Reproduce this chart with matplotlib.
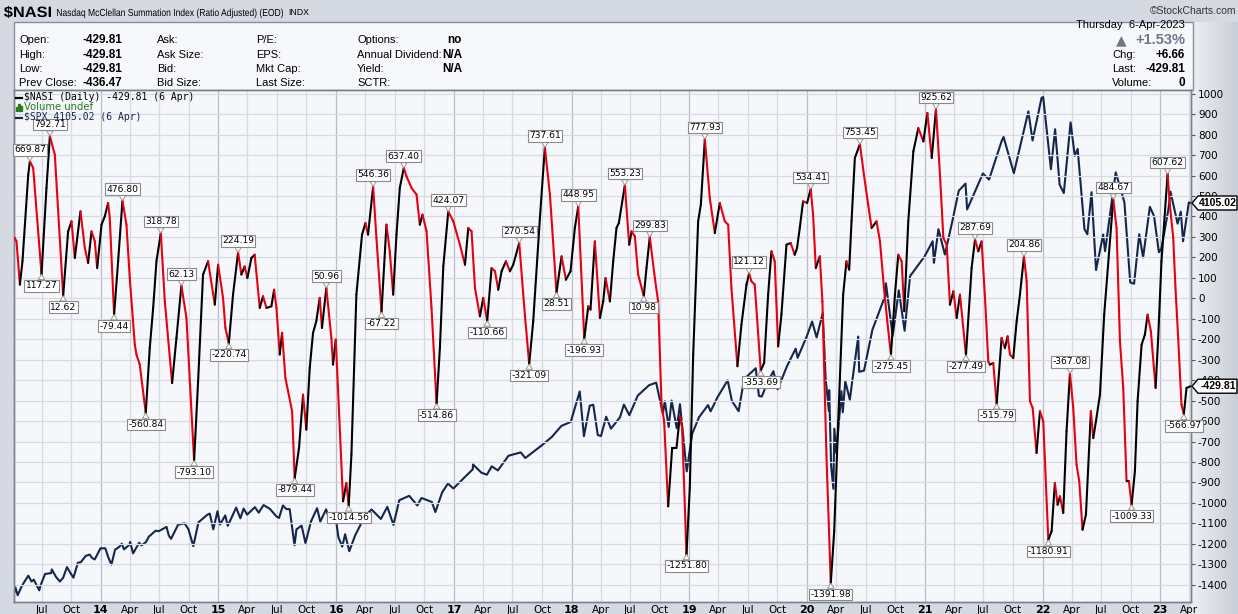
import matplotlib
matplotlib.use("Agg")
import matplotlib.pyplot as plt
import matplotlib.dates as mdates
import numpy as np
import pandas as pd
from datetime import datetime
from matplotlib.collections import LineCollection
from matplotlib.patches import Rectangle, Polygon, PathPatch
from matplotlib.colors import LinearSegmentedColormap
from matplotlib.textpath import TextPath
from matplotlib.font_manager import FontProperties
from matplotlib.transforms import Affine2D

# ---------------- DATA ----------------
# $NASI readings: decimal-year dates and values
nasi_t = [
 2013.269, 2013.283, 2013.312, 2013.334, 2013.383, 2013.397, 2013.425, 2013.496, 2013.538, 2013.567,
 2013.609, 2013.680, 2013.722, 2013.751, 2013.779, 2013.827, 2013.864, 2013.892, 2013.921, 2013.949,
 2013.969, 2014.006, 2014.034, 2014.062, 2014.076, 2014.113, 2014.147, 2014.184, 2014.218, 2014.246,
 2014.289, 2014.303, 2014.331, 2014.382, 2014.416, 2014.445, 2014.473, 2014.510, 2014.544, 2014.606,
 2014.643, 2014.685, 2014.728, 2014.793, 2014.827, 2014.869, 2014.912, 2014.969, 2014.997, 2015.039,
 2015.059, 2015.088, 2015.124, 2015.167, 2015.195, 2015.223, 2015.246, 2015.280, 2015.308, 2015.351,
 2015.379, 2015.408, 2015.450, 2015.473, 2015.493, 2015.521, 2015.541, 2015.569, 2015.626, 2015.648,
 2015.685, 2015.719, 2015.747, 2015.776, 2015.804, 2015.832, 2015.861, 2015.880, 2015.917, 2015.960,
 2015.974, 2015.997, 2016.016, 2016.059, 2016.087, 2016.107, 2016.130, 2016.172, 2016.220, 2016.249,
 2016.271, 2016.314, 2016.342, 2016.385, 2016.427, 2016.455, 2016.484, 2016.512, 2016.540, 2016.574,
 2016.597, 2016.640, 2016.682, 2016.710, 2016.733, 2016.767, 2016.809, 2016.852, 2016.880, 2016.909,
 2016.951, 2016.994, 2017.050, 2017.093, 2017.121, 2017.149, 2017.178, 2017.220, 2017.248, 2017.282,
 2017.319, 2017.348, 2017.376, 2017.404, 2017.441, 2017.475, 2017.503, 2017.554, 2017.602, 2017.639,
 2017.673, 2017.730, 2017.772, 2017.815, 2017.871, 2017.914, 2017.951, 2017.990, 2018.027, 2018.056,
 2018.107, 2018.141, 2018.160, 2018.197, 2018.240, 2018.268, 2018.288, 2018.325, 2018.353, 2018.381,
 2018.401, 2018.452, 2018.489, 2018.509, 2018.537, 2018.565, 2018.613, 2018.636, 2018.664, 2018.707,
 2018.735, 2018.764, 2018.786, 2018.820, 2018.854, 2018.891, 2018.919, 2018.939, 2018.976, 2019.004,
 2019.033, 2019.075, 2019.098, 2019.132, 2019.174, 2019.217, 2019.259, 2019.302, 2019.330, 2019.358,
 2019.409, 2019.443, 2019.486, 2019.508, 2019.528, 2019.556, 2019.607, 2019.636, 2019.670, 2019.698,
 2019.726, 2019.755, 2019.783, 2019.826, 2019.862, 2019.896, 2019.916, 2019.939, 2019.967, 2020.001,
 2020.032, 2020.052, 2020.075, 2020.109, 2020.131, 2020.165, 2020.202, 2020.231, 2020.265, 2020.307,
 2020.335, 2020.358, 2020.378, 2020.406, 2020.449, 2020.483, 2020.519, 2020.548, 2020.590, 2020.619,
 2020.653, 2020.681, 2020.712, 2020.746, 2020.774, 2020.803, 2020.825, 2020.859, 2020.902, 2020.944,
 2020.987, 2021.021, 2021.058, 2021.094, 2021.128, 2021.157, 2021.185, 2021.213, 2021.242, 2021.270,
 2021.298, 2021.349, 2021.397, 2021.426, 2021.454, 2021.482, 2021.511, 2021.539, 2021.553, 2021.581,
 2021.610, 2021.652, 2021.680, 2021.703, 2021.723, 2021.751, 2021.780, 2021.808, 2021.842, 2021.865,
 2021.893, 2021.916, 2021.949, 2021.978, 2022.006, 2022.049, 2022.077, 2022.105, 2022.128, 2022.148,
 2022.176, 2022.204, 2022.233, 2022.261, 2022.289, 2022.312, 2022.340, 2022.369, 2022.411, 2022.431,
 2022.454, 2022.488, 2022.524, 2022.601, 2022.629, 2022.658, 2022.686, 2022.714, 2022.734, 2022.757,
 2022.785, 2022.808, 2022.842, 2022.870, 2022.893, 2022.921, 2022.961, 2022.983, 2023.011, 2023.063,
 2023.082, 2023.111, 2023.130, 2023.153, 2023.181, 2023.201, 2023.224, 2023.258]
nasi_v = [
 295, 278, 67, 181, 604, 669.87, 637, 117.27, 539, 792.71,
 702, 12.62, 327, 376, 197, 425, 246, 173, 327, 278,
 148, 360, 401, 466, 393, -79.44, 181, 476.80, 360, 99,
 -227, -275, -324, -560.84, -243, -47, 181, 318.78, -15, -414,
 -194, 62.13, -96, -793.10, -406, 116, 181, -31, 164, 2,
 -145, -220.74, 18, 224.19, 116, 156, 99, 197, 213, -47,
 10, -47, -39, 42, -47, -275, -169, -389, -552, -879.44,
 -731, -471, -642, -340, -169, -112, 2, -145, 50.96, -194,
 -324, -202, -438, -992, -903, -1014.56, -764, 18, 311, 368,
 311, 546.36, 295, -67.22, 360, 230, 18, 311, 539, 637.40,
 596, 539, 507, 360, 409, 327, -47, -514.86, -243, 156,
 424.07, 376, 262, 164, 344, 327, 50, -88, 2, -110.66,
 148, 132, 42, 132, 181, 132, 164, 270.54, -80, -321.09,
 -112, 393, 737.61, 507, 28.51, 205, 91, 132, 344, 448.95,
 -196.93, -39, -55, 278, -96, -15, 99, -15, 181, 344,
 368, 553.23, 262, 327, 303, 116, 10.98, 148, 299.83, 99,
 -15, -520, -601, -1017, -732, -732, -577, -634, -1251.80, -927,
 -275, 376, 458, 777.93, 490, 319, 466, 376, 360, 50,
 -332, -129, 67, 121.12, 83, 67, -353.69, -316, 18, 230,
 181, -235, -80, 262, 270, 213, 246, 344, 474, 466,
 534.41, 409, 148, 205, -15, -764, -1391.98, -1139, -601, 18,
 181, 140, 376, 686, 753.45, 604, 458, 344, 376, 278,
 50, -112, -275.45, 18, 213, 181, -63, 376, 718, 832,
 767, 906, 686, 925.62, 604, 295, 262, -31, 34, -96,
 18, -277.49, 148, 287.69, 230, 278, 0, -310, -324, -316,
 -515.79, -194, -243, -186, -275, -292, -112, 18, 204.86, 83,
 -503, -536, -756, -552, -601, -1180.91, -1139, -903, -1009, -968,
 -1049, -650, -367.08, -536, -813, -894, -1131, -1057, -552, -683,
 -601, -471, -80, 484.67, 344, -210, -438, -894, -894, -1009.33,
 -846, -503, -227, -178, -80, -161, -438, -194, 181, 607.62,
 458, 295, 50, -194, -520, -566.97, -438, -429.81]

# values of $NASI that carry a label box
label_values = [669.87, 792.71, 117.27, 12.62, 476.80, -79.44, 318.78, 62.13, -560.84, -793.10,
                224.19, -220.74, 50.96, -879.44, 546.36, 637.40, -67.22, -1014.56, 424.07, -514.86,
                -110.66, 270.54, 737.61, -321.09, 448.95, 28.51, 553.23, -196.93, 299.83, 10.98,
                777.93, -1251.80, 121.12, -353.69, 534.41, 753.45, -1391.98, -275.45, 925.62,
                287.69, -277.49, -515.79, 204.86, -1180.91, -367.08, 484.67, -1009.33, 607.62, -566.97]

# $SPX readings (date, close)
spx_dates = [
 "2013-04-08","2013-04-11","2013-04-18","2013-04-30","2013-05-10","2013-05-21","2013-05-31","2013-06-07","2013-06-24","2013-06-28",
 "2013-07-12","2013-07-31","2013-08-02","2013-08-15","2013-08-27","2013-09-06","2013-09-18","2013-09-30","2013-10-08","2013-10-22",
 "2013-10-31","2013-11-15","2013-11-27","2013-12-05","2013-12-13","2013-12-31","2014-01-15","2014-01-24","2014-02-03","2014-02-14",
 "2014-02-28","2014-03-07","2014-03-14","2014-03-31","2014-04-02","2014-04-11","2014-04-30","2014-05-07","2014-05-21","2014-05-30",
 "2014-06-20","2014-06-30","2014-07-24","2014-07-31","2014-08-07","2014-08-29","2014-09-18","2014-09-30","2014-10-15","2014-10-31",
 "2014-11-28","2014-12-05","2014-12-16","2014-12-29","2015-01-06","2015-01-22","2015-01-30","2015-02-25","2015-03-10","2015-03-20",
 "2015-03-31","2015-04-24","2015-05-06","2015-05-21","2015-06-10","2015-06-29","2015-07-08","2015-07-20","2015-07-31","2015-08-10",
 "2015-08-25","2015-08-31","2015-09-16","2015-09-28","2015-10-15","2015-11-03","2015-11-13","2015-12-01","2015-12-14","2015-12-29",
 "2016-01-08","2016-01-20","2016-01-29","2016-02-11","2016-02-29","2016-03-31","2016-04-20","2016-05-19","2016-06-08","2016-06-27",
 "2016-07-15","2016-08-15","2016-09-09","2016-09-22","2016-10-24","2016-11-04","2016-11-25","2016-12-13","2016-12-30","2017-01-26",
 "2017-02-28","2017-03-01","2017-03-27","2017-04-13","2017-04-28","2017-05-17","2017-06-19","2017-07-27","2017-08-10","2017-08-31",
 "2017-09-29","2017-10-31","2017-11-30","2017-12-29","2018-01-26","2018-02-08","2018-02-26","2018-03-09","2018-03-23","2018-04-02",
 "2018-04-18","2018-05-03","2018-05-31","2018-06-12","2018-06-29","2018-07-25","2018-08-29","2018-09-20","2018-10-11","2018-10-17",
 "2018-10-29","2018-11-07","2018-11-23","2018-12-03","2018-12-24","2019-01-10","2019-01-31","2019-02-28","2019-03-08","2019-03-29",
 "2019-04-30","2019-05-13","2019-06-03","2019-06-20","2019-07-26","2019-08-05","2019-08-14","2019-08-30","2019-09-19","2019-10-02",
 "2019-10-31","2019-11-27","2019-12-03","2019-12-31","2020-01-17","2020-01-31","2020-02-19","2020-02-28","2020-03-09","2020-03-10",
 "2020-03-16","2020-03-23","2020-03-26","2020-04-01","2020-04-17","2020-04-21","2020-04-29","2020-05-13","2020-06-08","2020-06-11",
 "2020-06-26","2020-07-22","2020-08-31","2020-09-02","2020-09-23","2020-10-12","2020-10-30","2020-11-16","2020-12-31","2021-01-25",
 "2021-01-29","2021-02-12","2021-03-04","2021-03-26","2021-04-16","2021-05-07","2021-05-12","2021-06-30","2021-07-19","2021-08-27",
 "2021-09-02","2021-10-04","2021-11-18","2021-12-01","2021-12-29","2022-01-03","2022-01-27","2022-02-09","2022-02-23","2022-03-08",
 "2022-03-29","2022-04-11","2022-04-20","2022-05-02","2022-05-11","2022-05-20","2022-06-02","2022-06-16","2022-07-08","2022-07-14",
 "2022-08-16","2022-09-12","2022-09-30","2022-10-12","2022-10-28","2022-11-09","2022-11-30","2022-12-13","2022-12-28","2023-01-05",
 "2023-01-27","2023-02-02","2023-02-24","2023-03-06","2023-03-13","2023-03-31","2023-04-06"]
spx_vals = [
 1563, 1593, 1541, 1598, 1633, 1669, 1631, 1643, 1573, 1606,
 1680, 1686, 1710, 1661, 1631, 1655, 1725, 1682, 1656, 1754,
 1757, 1798, 1807, 1785, 1775, 1848, 1848, 1790, 1741, 1838,
 1859, 1878, 1841, 1872, 1890, 1815, 1884, 1867, 1888, 1924,
 1963, 1960, 1988, 1931, 1910, 2003, 2011, 1972, 1862, 2018,
 2068, 2075, 1972, 2090, 2003, 2063, 1995, 2114, 2044, 2108,
 2068, 2117, 2081, 2131, 2105, 2058, 2046, 2128, 2104, 2104,
 1868, 1972, 1996, 1882, 2023, 2110, 2023, 2103, 2013, 2078,
 1922, 1859, 1940, 1829, 1932, 2060, 2102, 2040, 2119, 2001,
 2162, 2191, 2128, 2177, 2151, 2085, 2213, 2271, 2239, 2296,
 2364, 2396, 2342, 2329, 2384, 2357, 2453, 2475, 2438, 2472,
 2519, 2575, 2648, 2674, 2873, 2581, 2780, 2786, 2588, 2582,
 2708, 2630, 2705, 2787, 2718, 2846, 2914, 2931, 2728, 2809,
 2641, 2814, 2633, 2790, 2351, 2597, 2704, 2784, 2743, 2834,
 2946, 2812, 2744, 2954, 3025, 2844, 2840, 2926, 3006, 2887,
 3038, 3153, 3093, 3231, 3330, 3226, 3386, 2954, 2747, 2882,
 2386, 2237, 2630, 2470, 2875, 2737, 2939, 2820, 3232, 3002,
 3009, 3276, 3500, 3580, 3237, 3534, 3270, 3627, 3756, 3855,
 3714, 3934, 3768, 3975, 4185, 4232, 4063, 4298, 4258, 4509,
 4537, 4300, 4704, 4513, 4793, 4797, 4326, 4587, 4225, 4170,
 4632, 4413, 4459, 4155, 3935, 3901, 4176, 3667, 3899, 3790,
 4305, 4110, 3586, 3577, 3901, 3749, 4080, 4019, 3783, 3808,
 4070, 4179, 3970, 4048, 3855, 4109, 4105.02]

month_names = {4: "Apr", 7: "Jul", 10: "Oct"}

# ---------------- HELPERS ----------------
W, H = 1238, 614


def dec_to_dt(t):
    y = int(t)
    a = datetime(y, 1, 1)
    b = datetime(y + 1, 1, 1)
    return a + (b - a) * (t - y)


def fx(x):
    return x / W


def fy(y):
    return 1 - y / H


BG = "#d5d9e2"
PLOT_BG = "#f5f7fb"
GRID = "#d6dae2"
GRID_Y = "#b9bdc8"
RED = "#e8000f"
NAVY = "#15264d"
SANS = ["Liberation Sans", "DejaVu Sans"]
CHART = ["DejaVu Sans"]
MONO = ["DejaVu Sans Mono"]

fig = plt.figure(figsize=(W / 100, H / 100), dpi=100, facecolor=BG)

# right strip gradient
strip = fig.add_axes([fx(1191), 0, fx(W - 1191), fy(22)], zorder=0)
grad = np.linspace(0, 1, 64).reshape(1, -1)
cm = LinearSegmentedColormap.from_list("g", ["#eef0f4", "#c9cdd6"])
strip.imshow(grad, aspect="auto", cmap=cm, extent=[0, 1, 0, 1])
strip.set_axis_off()

# info panel
fig.patches.append(Rectangle((fx(14), fy(90)), fx(1193 - 14), fy(22) - fy(90),
                             transform=fig.transFigure, facecolor="#f7f8fb",
                             edgecolor="#8c909c", lw=1, zorder=1))

L, R, T, B = 14, 1191, 90, 602
ax2 = fig.add_axes([fx(L), fy(B), fx(R - L), fy(T) - fy(B)], zorder=2)
ax = ax2.twinx()
ax.set_zorder(3)
ax.patch.set_visible(False)
ax2.set_facecolor(PLOT_BG)

xmin, xmax = dec_to_dt(2013.262), dec_to_dt(2023.262)

# SPX
sd = pd.to_datetime(spx_dates)
ax2.plot(sd, spx_vals, color=NAVY, lw=1.5, zorder=3)
ax2.set_ylim(1497, 4843.6)
ax2.set_yticks([])

# NASI coloured by direction
nd = [dec_to_dt(t) for t in nasi_t]
nx = mdates.date2num(nd)
nv = np.array(nasi_v, dtype=float)
pts = np.column_stack([nx, nv]).reshape(-1, 1, 2)
segs = np.concatenate([pts[:-1], pts[1:]], axis=1)
cols = [RED if nv[i + 1] < nv[i] else "black" for i in range(len(nv) - 1)]
lc = LineCollection(segs, colors=cols, linewidths=1.5, capstyle="round", joinstyle="round", zorder=4)
ax.add_collection(lc)
ax.set_ylim(-1484.4, 1018.1)
ax.set_xlim(xmin, xmax)
ax2.set_xlim(xmin, xmax)

# grids
ticks = []
tlabels = []
for yr in range(2013, 2024):
    for m in (1, 4, 7, 10):
        d = datetime(yr, m, 1)
        if xmin <= d <= xmax:
            ticks.append(d)
            tlabels.append(str(yr)[2:] if m == 1 else month_names[m])
for d in ticks:
    ax2.axvline(d, color=GRID_Y if d.month == 1 else GRID, lw=0.9, zorder=1)
yt = np.arange(-1400, 1001, 100)
for v in yt:
    ax.axhline(v, color=GRID, lw=0.9, zorder=1)

ax2.set_xticks(ticks)
ax2.set_xticklabels(tlabels)
for lab, d in zip(ax2.get_xticklabels(), ticks):
    lab.set_fontfamily(CHART)
    lab.set_fontsize(7.5)
    if d.month == 1:
        lab.set_fontweight("bold")
        lab.set_fontsize(8)
ax2.tick_params(axis="x", length=0, pad=2)

ax.set_yticks(yt)
ax.set_yticklabels([str(v) for v in yt], fontfamily=CHART, fontsize=7.5)
ax.tick_params(axis="y", length=3, pad=2, color="#555555")

for a in (ax, ax2):
    for s in a.spines.values():
        s.set_color("#7d818d")
        s.set_linewidth(1)

# label boxes
for lv in label_values:
    i = int(np.argmin(np.abs(nv - lv)))
    prev = nv[i - 1] if i > 0 else -1e9
    nxt = nv[i + 1] if i < len(nv) - 1 else -1e9
    peak = nv[i] >= prev and nv[i] >= nxt
    off = 8.3 if peak else -8.3
    ax.annotate(f"{lv:.2f}", xy=(nx[i], nv[i]), xytext=(0, off), textcoords="offset points",
                ha="center", va="center", fontsize=6.6, family=CHART, color="black", zorder=6,
                bbox=dict(boxstyle="square,pad=0.15", fc="white", ec="#8a8a8a", lw=0.8),
                arrowprops=dict(arrowstyle="wedge,tail_width=0.7,shrink_factor=0.5",
                                fc="white", ec="#9a9a9a", lw=0.7, shrinkA=0, shrinkB=0))

# legend in plot
fig.text(fx(24), fy(97.5), "$NASI (Daily) -429.81 (6 Apr)", color="black", fontsize=7, family=MONO,
         va="center", ha="left", zorder=10)
fig.text(fx(24), fy(107.5), "Volume undef", color="#2a7a1e", fontsize=7.2, family=CHART,
         va="center", ha="left", zorder=10)
fig.text(fx(24), fy(117.5), "$SPX 4105.02 (6 Apr)", color=NAVY, fontsize=7, family=MONO,
         va="center", ha="left", zorder=10)
fig.lines.append(plt.Line2D([fx(16), fx(22)], [fy(97.5), fy(97.5)], color="black", lw=1.6, transform=fig.transFigure, zorder=10))
fig.lines.append(plt.Line2D([fx(16), fx(22)], [fy(117.5), fy(117.5)], color=NAVY, lw=1.6, transform=fig.transFigure, zorder=10))
for k, hgt in enumerate([4, 7, 5]):
    fig.patches.append(Rectangle((fx(16 + k * 2.3), fy(111)), fx(1.4), fy(111 - hgt) - fy(111),
                                 transform=fig.transFigure, color="#2a7a1e", zorder=10))

# value tags on the right axis
fig.canvas.draw()


def tag(axis, xnum, yval, text):
    xd, yd = axis.transData.transform((xnum, yval))
    x0 = axis.bbox.x1 + 1
    poly = [(x0, yd), (x0 + 6, yd + 7), (x0 + 45, yd + 7), (x0 + 45, yd - 7), (x0 + 6, yd - 7)]
    poly = [(px / W, py / H) for px, py in poly]
    fig.patches.append(Polygon(poly, closed=True, transform=fig.transFigure, fc="white", ec="black", lw=1, zorder=20))
    fig.text((x0 + 26) / W, yd / H, text, fontsize=7.6, fontweight="bold", family=SANS,
             ha="center", va="center", zorder=21)


tag(ax2, mdates.date2num(sd[-1]), spx_vals[-1], f"{spx_vals[-1]:.2f}")
tag(ax, float(nx[-1]), nv[-1], f"{nv[-1]:.2f}")


# condensed header title drawn as a text path
def condensed_text(s, x_left, x_right, baseline, size_px, weight="normal"):
    tp = TextPath((0, 0), s, size=size_px, prop=FontProperties(family="Liberation Sans", weight=weight))
    ext = tp.get_extents()
    sx = (x_right - x_left) / ext.width
    tr = Affine2D().translate(-ext.x0, 0).scale(sx, 1).translate(x_left, H - baseline)
    fig.add_artist(PathPatch(tp, transform=tr, fc="black", lw=0, zorder=5))


condensed_text("$NASI", 4, 51, 17, 15, weight="bold")
condensed_text("Nasdaq McClellan Summation Index (Ratio Adjusted) (EOD)", 57, 283, 16, 10.2)
fig.text(fx(288), fy(12.5), "INDX", fontsize=6.3, family=SANS, va="center")
fig.text(fx(1236), fy(11), "\u00a9StockCharts.com", fontsize=7.5, family=SANS, va="center", ha="right", color="#333333")

rows_y = [40, 54.5, 69, 83.5]
col1 = ["Open:", "High:", "Low:", "Prev Close:"]
col1v = ["-429.81", "-429.81", "-429.81", "-436.47"]
col2 = ["Ask:", "Ask Size:", "Bid:", "Bid Size:"]
col3 = ["P/E:", "EPS:", "Mkt Cap:", "Last Size:"]
col4 = ["Options:", "Annual Dividend:", "Yield:", "SCTR:"]
col4v = ["no", "N/A", "N/A", ""]
for yy, a, av, b, c, d, dv in zip(rows_y, col1, col1v, col2, col3, col4, col4v):
    fig.text(fx(19), fy(yy), a, fontsize=8, family=SANS, va="center")
    fig.text(fx(122), fy(yy), av, fontsize=8.5, family=SANS, fontweight="bold", va="center", ha="right")
    fig.text(fx(157), fy(yy), b, fontsize=8, family=SANS, va="center")
    fig.text(fx(256), fy(yy), c, fontsize=8, family=SANS, va="center")
    fig.text(fx(357), fy(yy), d, fontsize=8, family=SANS, va="center")
    if dv:
        fig.text(fx(462), fy(yy), dv, fontsize=8.5, family=SANS, fontweight="bold", va="center", ha="right")

fig.text(fx(1185), fy(25.5), "Thursday  6-Apr-2023", fontsize=8, family=SANS, va="center", ha="right")
fig.text(fx(1185), fy(40), "+1.53%", fontsize=10.5, family=SANS, va="center", ha="right", color="#6e7888", fontweight="bold")
fig.text(fx(1121), fy(40), "\u25b2", fontsize=10, family=["DejaVu Sans"], va="center", ha="center", color="#6e7888")
for yy, a, av in zip([54.5, 69, 83.5], ["Chg:", "Last:", "Volume:"], ["+6.66", "-429.81", "0"]):
    fig.text(fx(1112), fy(yy), a, fontsize=8, family=SANS, va="center")
    fig.text(fx(1185), fy(yy), av, fontsize=8.5, family=SANS, fontweight="bold", va="center", ha="right")

fig.savefig("out.png", dpi=100, facecolor=BG)
